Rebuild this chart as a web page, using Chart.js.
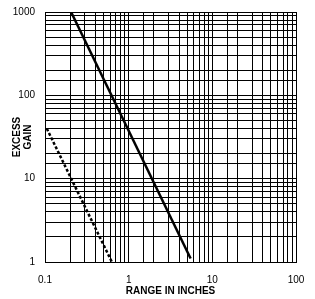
<!DOCTYPE html>
<html>
<head>
<meta charset="utf-8">
<script src="https://cdn.jsdelivr.net/npm/chart.js@4"></script>
<style>
  html, body { margin: 0; padding: 0; background: #fff; }
  #wrap { width: 315px; height: 299px; }
</style>
</head>
<body>
<div id="wrap"><canvas id="gainChart"></canvas></div>
<script>
// 読み取った値
const solidRange = [0.205, 5.5];
const solidGain = [1000, 1.1];
const dashedRange = [0.105, 0.63];
const dashedGain = [40, 1];
const rangeLabels = [0.1, 1, 10, 100];
const gainLabels = [1, 10, 100, 1000];

const toPoints = (xs, ys) => xs.map((x, i) => ({ x: x, y: ys[i] }));

Chart.defaults.font.family = "'Liberation Sans', Arial, sans-serif";
Chart.defaults.color = '#000';

const ctx = document.getElementById('gainChart');
new Chart(ctx, {
  type: 'line',
  data: {
    datasets: [{
      data: toPoints(solidRange, solidGain),
      borderColor: '#000',
      borderWidth: 2.5,
      pointRadius: 0
    }, {
      data: toPoints(dashedRange, dashedGain),
      borderColor: '#000',
      borderWidth: 2.5,
      borderDash: [3, 2],
      pointRadius: 0
    }]
  },
  options: {
    responsive: true,
    maintainAspectRatio: false,
    animation: false,
    layout: { padding: { top: 12, right: 19, bottom: 0, left: 0 } },
    plugins: { legend: { display: false }, tooltip: { enabled: false } },
    scales: {
      x: {
        type: 'logarithmic',
        min: 0.1,
        max: 100,
        afterFit: function(scale) {
          scale.height = 37;
          scale.paddingLeft = 0;
          scale.paddingRight = 0;
        },
        border: { color: '#000', width: 1 },
        grid: { color: '#000', lineWidth: 1, drawTicks: false },
        ticks: {
          autoSkip: false,
          maxRotation: 0,
          padding: 12,
          font: { size: 10 },
          callback: function(value) {
            return rangeLabels.includes(value) ? String(value) : '';
          }
        },
        title: {
          display: true,
          text: 'RANGE IN INCHES',
          font: { size: 10, weight: 'bold', lineHeight: 1.2 },
          padding: { top: 0, bottom: 1.5 }
        }
      },
      y: {
        type: 'logarithmic',
        min: 1,
        max: 1000,
        afterFit: function(scale) {
          scale.width = 45;
          scale.paddingTop = 0;
          scale.paddingBottom = 0;
        },
        border: { color: '#000', width: 1 },
        grid: { color: '#000', lineWidth: 1, drawTicks: false },
        ticks: {
          autoSkip: false,
          padding: 10,
          font: { size: 10 },
          callback: function(value) {
            return gainLabels.includes(value) ? String(value) : '';
          }
        },
        title: {
          display: true,
          text: ['EXCESS', 'GAIN'],
          font: { size: 10, weight: 'bold', lineHeight: 1.1 },
          padding: { top: 11.5, bottom: 0 }
        }
      }
    }
  }
});
</script>
</body>
</html>
